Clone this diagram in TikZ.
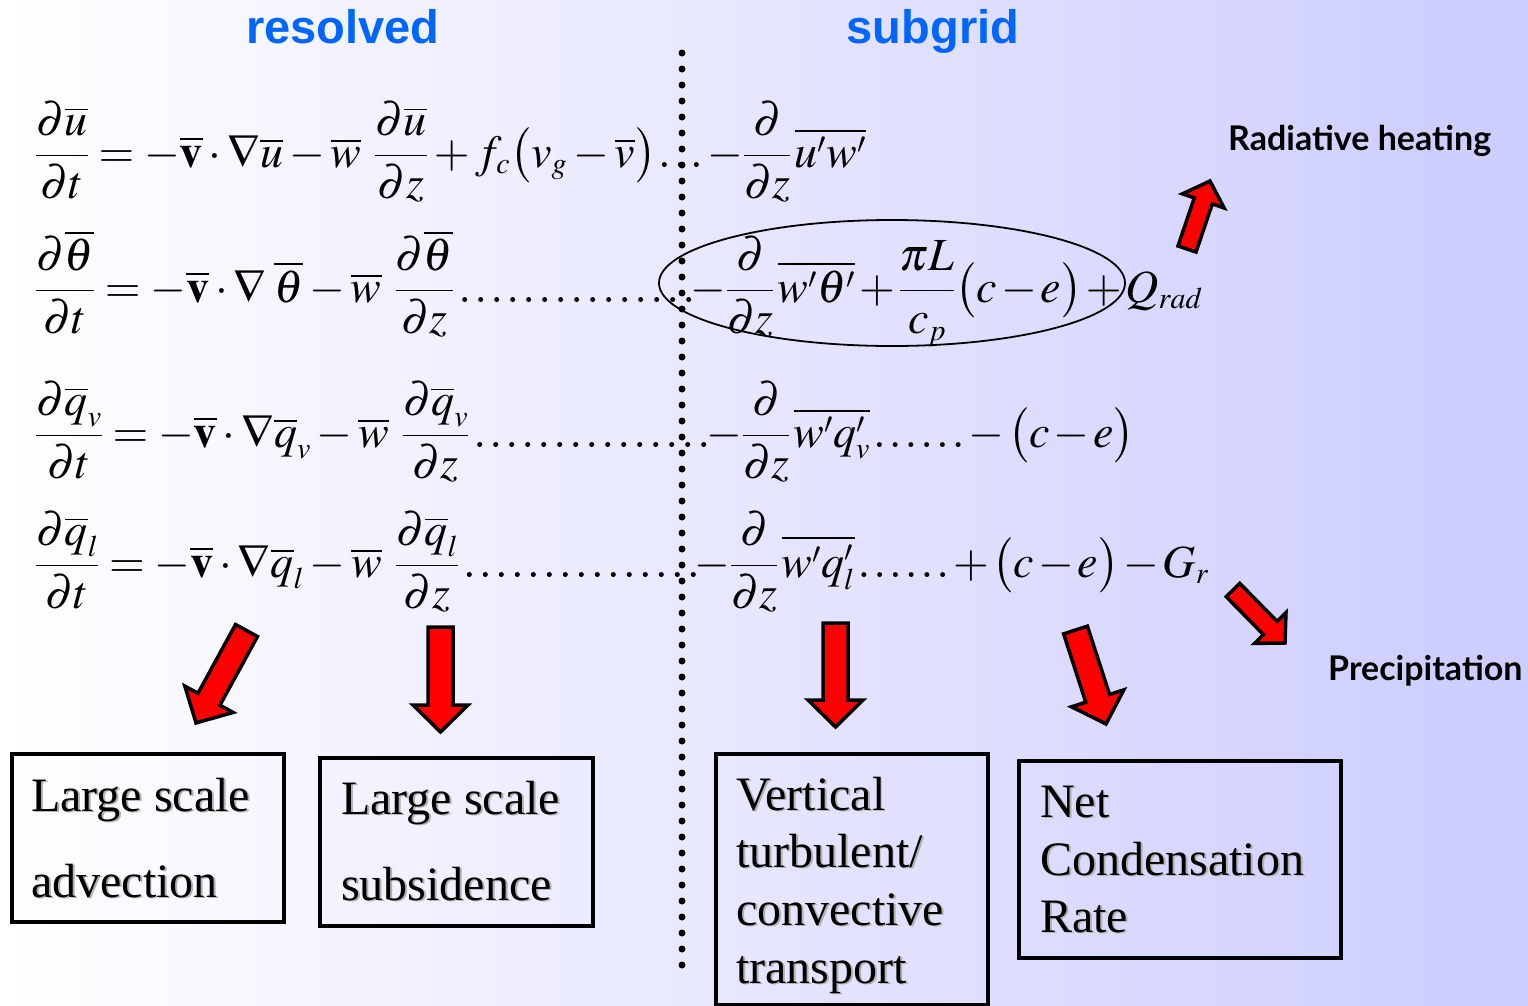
\documentclass[tikz,border=0pt]{standalone}
\usepackage{mathptmx}
\usepackage[no-math]{fontspec}
\setmainfont{Liberation Serif}
\newfontfamily\hdfont{Liberation Sans}
\newfontfamily\lbfont{Lato}
\usetikzlibrary{calc,shapes.geometric}
\DeclareMathSizes{46}{46}{30}{23}
\definecolor{bgR}{RGB}{204,204,255}
\definecolor{hdblue}{RGB}{0,102,255}
\newcommand{\shd}[1]{\leavevmode\rlap{\kern1.8pt\raisebox{-1.8pt}{\color{black!30}#1}}#1}
\newcommand{\tightmath}{\medmuskip=1.5mu plus 1mu minus 1mu\thickmuskip=3.5mu plus 2mu\thinmuskip=1.2mu}
\newcommand{\leftmath}{\medmuskip=2.3mu plus 1mu minus 1mu\thickmuskip=3.8mu plus 2mu\thinmuskip=1.2mu}
\newcommand{\blockarrow}[5]{%
  \draw[blockarr] let \p1=($(#2)-(#1)$), \n1={atan2(\y1,\x1)}, \n2={veclen(\x1,\y1)} in
   [shift={(#1)}, rotate=\n1] (0,#3) -- ({\n2-#5},#3) -- ({\n2-#5},#4) -- (\n2,0)
   -- ({\n2-#5},-#4) -- ({\n2-#5},-#3) -- (0,-#3) -- cycle;}
\begin{document}
\begin{tikzpicture}[x=1pt,y=-1pt,
 eq/.style={inner sep=0pt, anchor=base west, font=\fontsize{46}{58}\selectfont},
 hd/.style={inner sep=0pt, anchor=base, font=\hdfont\bfseries\fontsize{47}{56}\selectfont, text=hdblue},
 lb/.style={inner sep=0pt, anchor=base west, font=\lbfont\bfseries\fontsize{34}{40}\selectfont},
 boxst/.style={draw=black, line width=3.5pt, inner sep=0pt, anchor=north west},
 bt/.style={inner sep=0pt, anchor=base west, font=\fontsize{48}{58}\selectfont},
 doth/.style={line width=5pt, line cap=round, dash pattern=on 0pt off 16pt},
 dotv/.style={line width=7pt, line cap=round, dash pattern=on 0pt off 16pt},
 blockarr/.style={draw=black, fill=red, line width=3.5pt, line join=miter}]
\useasboundingbox (0,0) rectangle (1528,1005);
\shade[left color=white, right color=bgR] (0,0) rectangle (1528,1005);

% headers
\node[hd] (res) at (343,43) {resolved};
\node[hd] (sub) at (933,43) {subgrid};

% vertical dotted separator
\coordinate (vtop) at (682,53);
\coordinate (vbot) at (682,966);
\draw[dotv] (vtop) -- (vbot);

% equations, resolved part
\node[eq] (E1L) at (35,167) {$\leftmath\displaystyle \frac{\partial\overline{u}}{\partial t} = -\overline{\mathbf{v}}\cdot\nabla\overline{u} - \overline{w}\mkern5mu\frac{\partial\overline{u}}{\partial z} + f_c\bigl(v_g - \overline{v}\bigr)$};
\node[eq] (E2L) at (35,302) {$\leftmath\displaystyle \frac{\partial\overline{\theta}}{\partial t} = -\overline{\mathbf{v}}\cdot\nabla\mkern3mu\overline{\theta} - \overline{w}\mkern5mu\frac{\partial\overline{\theta}}{\partial z}$};
\node[eq] (E3L) at (35,447) {$\leftmath\displaystyle \frac{\partial\overline{q}_v}{\partial t} = -\overline{\mathbf{v}}\cdot\nabla\overline{q}_v - \overline{w}\mkern5mu\frac{\partial\overline{q}_v}{\partial z}$};
\node[eq] (E4L) at (35,577) {$\leftmath\displaystyle \frac{\partial\overline{q}_l}{\partial t} = -\overline{\mathbf{v}}\cdot\nabla\overline{q}_l - \overline{w}\mkern5mu\frac{\partial\overline{q}_l}{\partial z}$};

% equations, subgrid part
\node[eq] (E1R) at (707,167) {$\tightmath\displaystyle -\frac{\partial}{\partial z}\,\overline{u'w'}$};
\node[eq] (E2R) at (690,302) {$\tightmath\displaystyle -\frac{\partial}{\partial z}\,\overline{w'\theta'} + \frac{\pi L}{c_p}\bigl(c-e\bigr) + Q_{rad}$};
\node[eq] (E3R) at (706,447) {$\tightmath\displaystyle -\frac{\partial}{\partial z}\,\overline{w'q'_v}\ldots\ldots-\bigl(c-e\bigr)$};
\node[eq] (E4R) at (694,577) {$\tightmath\displaystyle -\frac{\partial}{\partial z}\,\overline{w'q'_l}\ldots\ldots+\bigl(c-e\bigr)-G_r$};

% horizontal dotted leaders
\draw[doth] ([xshift=8pt,yshift=2.5pt]E1L.base east) -- ([yshift=2.5pt]E1R.base west);
\draw[doth] ([xshift=10pt,yshift=2.5pt]E2L.base east) -- ([yshift=2.5pt]E2R.base west);
\draw[doth] ([xshift=10pt,yshift=2.5pt]E3L.base east) -- ([yshift=2.5pt]E3R.base west);
\draw[doth] ([xshift=10pt,yshift=2.5pt]E4L.base east) -- ([yshift=2.5pt]E4R.base west);

% ellipse
\node[ellipse, draw=black, line width=1.8pt, minimum width=466pt, minimum height=126pt, inner sep=0pt] (ell) at (892,283) {};

% side labels
\node[lb] (rad) at (1228,150) {Radiative heating};
\node[lb] (prec) at (1328,680) {Precipitation};

% arrows
\coordinate (a1s) at (246.5,630.5); \coordinate (a1e) at (196,723);
\coordinate (a2s) at (440.5,627);   \coordinate (a2e) at (440.5,732);
\coordinate (a3s) at (835.5,623);   \coordinate (a3e) at (835.5,727);
\coordinate (a4s) at (1075.5,630);  \coordinate (a4e) at (1106,724);
\coordinate (a5s) at (1187,249);    \coordinate (a5e) at (1210,181);
\coordinate (a6s) at (1233,590);    \coordinate (a6e) at (1285,643);
\blockarrow{a1s}{a1e}{12.5}{27.5}{27}
\blockarrow{a2s}{a2e}{12.5}{27.5}{27}
\blockarrow{a3s}{a3e}{12.5}{27.5}{27}
\blockarrow{a4s}{a4e}{12.5}{27.5}{27}
\blockarrow{a5s}{a5e}{9.5}{22}{21}
\blockarrow{a6s}{a6e}{9.5}{22}{21}

% boxes
\node[boxst, minimum width=272pt, minimum height=168pt] (b1) at (10,752) {};
\node[boxst, minimum width=273pt, minimum height=168pt] (b2) at (318,756) {};
\node[boxst, minimum width=272pt, minimum height=251pt] (b3) at (714,752) {};
\node[boxst, minimum width=322pt, minimum height=197pt] (b4) at (1017,759) {};

\node[bt] (b1a) at (31,811) {\shd{Large scale}};
\node[bt] (b1b) at (31,897) {\shd{advection}};
\node[bt] (b2a) at (341,814) {\shd{Large scale}};
\node[bt] (b2b) at (341,900) {\shd{subsidence}};
\node[bt] (b3a) at (736,810) {\shd{Vertical}};
\node[bt] (b3b) at (736,867) {\shd{turbulent/}};
\node[bt] (b3c) at (736,925) {\shd{convective}};
\node[bt] (b3d) at (736,983) {\shd{transport}};
\node[bt] (b4a) at (1040,817) {\shd{Net}};
\node[bt] (b4b) at (1040,875) {\shd{Condensation}};
\node[bt] (b4c) at (1040,932) {\shd{Rate}};
\end{tikzpicture}
\end{document}
